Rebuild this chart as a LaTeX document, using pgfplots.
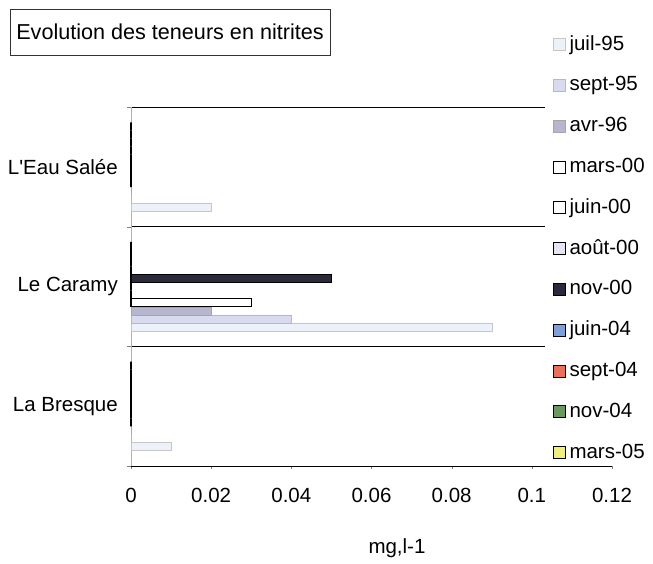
\documentclass[border=0pt]{standalone}
\usepackage{pgfplots}
\usepackage{pgfplotstable}
\pgfplotsset{compat=1.18}
\usepackage{fontspec}
\setmainfont{Liberation Sans}

% series colours
\definecolor{cJuilA}{HTML}{EDF1FA}
\definecolor{cSeptA}{HTML}{DADAEE}
\definecolor{cAvrB}{HTML}{B6B6CE}
\definecolor{cAoutC}{HTML}{E4E4F2}
\definecolor{cNovC}{HTML}{2A2A3A}
\definecolor{cJuinD}{HTML}{7E9EDC}
\definecolor{cSeptD}{HTML}{EC6F5C}
\definecolor{cNovD}{HTML}{6A9960}
\definecolor{cMarsE}{HTML}{F2EE7A}

% nitrite contents (mg/l) per station: 0 = La Bresque, 1 = Le Caramy, 2 = L'Eau Salée
\pgfplotstableread{
pos juil95 sept95 avr96 mars00 juin00 aout00 nov00 juin04 sept04 nov04 mars05
0   0.01   0      0     0      0      0      0     0      0      0     0
1   0.09   0.04   0.02  0.03   0      0      0.05  0      0      0     0
2   0.02   0      0     0      0      0      0     0      0      0     0
}\nitrites

\newcommand{\lblfont}{\fontsize{20.5}{24}\selectfont}

\begin{document}
\begin{tikzpicture}[x=1pt,y=1pt]
\path[use as bounding box] (0,0) rectangle (653,-563);
\node[draw=black!80, line width=0.6pt, minimum width=320pt, minimum height=46pt,
      inner sep=0pt, font=\fontsize{21.6}{25}\selectfont] at (170,-32)
      {Evolution des teneurs en nitrites};
\begin{axis}[
  at={(131pt,-466pt)}, anchor=south west,
  scale only axis, width=481pt, height=359pt,
  clip=false,
  xbar=0pt, bar width=8.1pt,
  xmin=0, xmax=0.12, ymin=-0.5, ymax=2.5,
  axis x line*=bottom, axis y line*=left,
  x axis line style={black, line width=0.6pt, -},
  y axis line style={gray!60, line width=0.8pt, -},
  tick align=outside,
  xtick={0,0.02,0.04,0.06,0.08,0.1,0.12},
  xticklabels={0,0.02,0.04,0.06,0.08,0.1,0.12},
  xticklabel style={font=\lblfont, inner sep=0pt, yshift=-19pt},
  ytick={0,1,2},
  yticklabels={La Bresque,Le Caramy,L\textquotesingle Eau Salée},
  yticklabel style={font=\lblfont, inner sep=0pt, xshift=-10pt},
  minor ytick={-0.5,0.5,1.5,2.5},
  yminorgrids,
  minor grid style={black, line width=0.6pt},
  major tick length=3pt, minor tick length=4pt,
  every major y tick/.append style={draw=none},
  xlabel={mg,l-1},
  xlabel style={font=\lblfont, at={(axis description cs:0.553,-0.228)}, anchor=center},
  every axis plot post/.append style={
    legend image code/.code={\draw[##1, line width=0.8pt] (0pt,-6pt) rectangle (12pt,6pt);}},
  legend style={at={(axis description cs:0.8607,1.2006)}, anchor=north west,
    draw=none, fill=white, inner xsep=8pt, inner ysep=0pt,
    font=\lblfont, row sep=21.8pt,
    nodes={inner sep=0pt, text height=15pt, text depth=4pt, anchor=west},
    /tikz/every odd column/.append style={column sep=3.5pt}},
  legend cell align=left,
]
\addplot[fill=cJuilA, draw=gray!45, line width=0.5pt] table[x=juil95, y=pos] {\nitrites};
\addplot[fill=cSeptA, draw=gray!55, line width=0.5pt] table[x=sept95, y=pos] {\nitrites};
\addplot[fill=cAvrB,  draw=gray!70, line width=0.5pt] table[x=avr96,  y=pos] {\nitrites};
\addplot[fill=white,  draw=black, line width=1.3pt] table[x=mars00, y=pos] {\nitrites};
\addplot[fill=white,  draw=black, line width=1.3pt] table[x=juin00, y=pos] {\nitrites};
\addplot[fill=cAoutC, draw=black, line width=1.3pt] table[x=aout00, y=pos] {\nitrites};
\addplot[fill=cNovC,  draw=black, line width=1.3pt] table[x=nov00,  y=pos] {\nitrites};
\addplot[fill=cJuinD, draw=black, line width=1.3pt] table[x=juin04, y=pos] {\nitrites};
\addplot[fill=cSeptD, draw=black, line width=1.3pt] table[x=sept04, y=pos] {\nitrites};
\addplot[fill=cNovD,  draw=black, line width=1.3pt] table[x=nov04,  y=pos] {\nitrites};
\addplot[fill=cMarsE, draw=black, line width=1.3pt] table[x=mars05, y=pos] {\nitrites};
\legend{juil-95,sept-95,avr-96,mars-00,juin-00,août-00,nov-00,juin-04,sept-04,nov-04,mars-05}
\end{axis}
\end{tikzpicture}
\end{document}
